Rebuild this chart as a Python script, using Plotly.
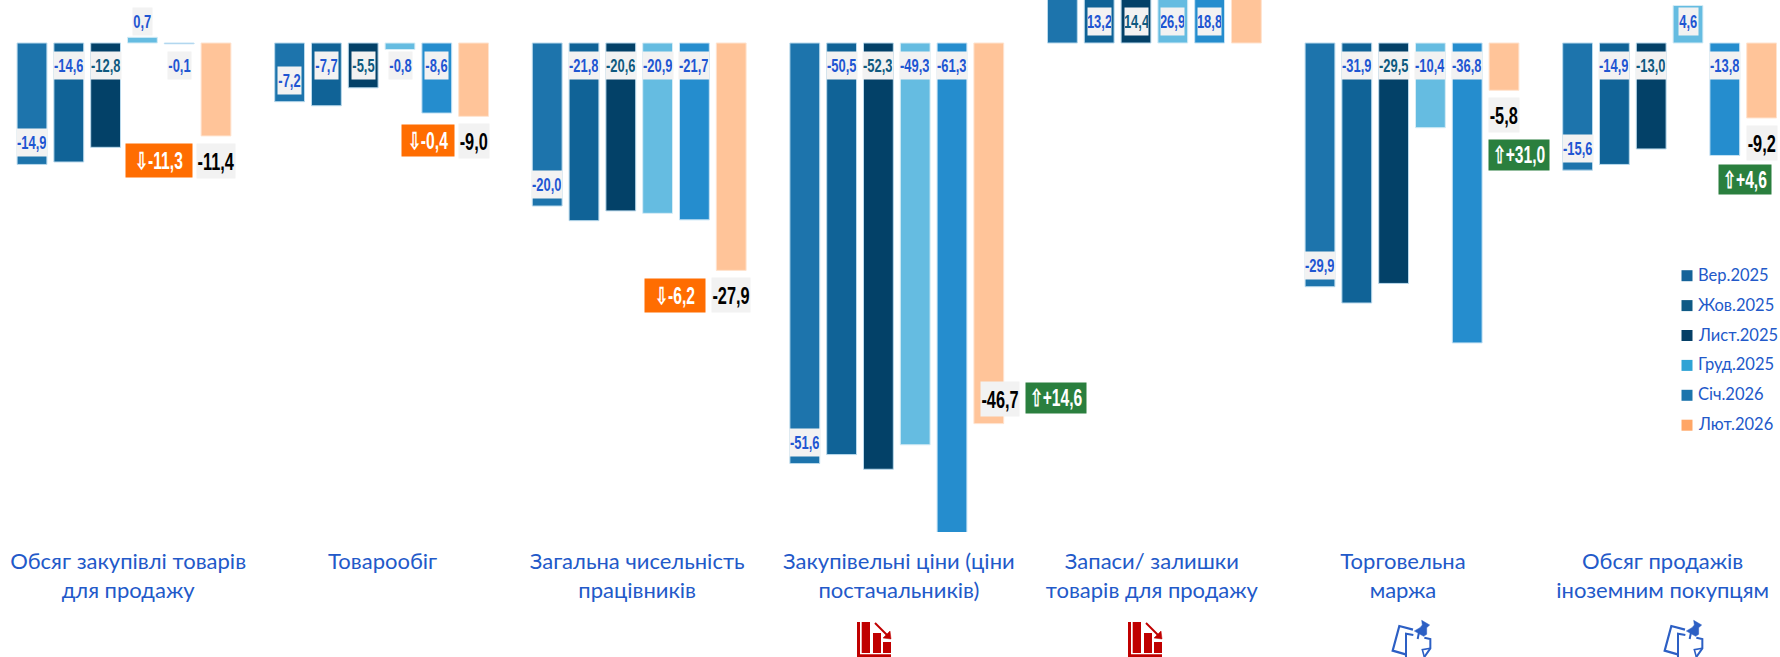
import plotly.graph_objects as go

W, H = 1780, 657

categories = [
    "Обсяг закупівлі товарів<br>для продажу",
    "Товарообіг",
    "Загальна чисельність<br>працівників",
    "Закупівельні ціни (ціни<br>постачальників)",
    "Запаси/ залишки<br>товарів для продажу",
    "Торговельна<br>маржа",
    "Обсяг продажів<br>іноземним покупцям",
]
months = ["Вер.2025", "Жов.2025", "Лист.2025", "Груд.2025", "Січ.2026", "Лют.2026"]

sep_2025 = [-14.9, -7.2, -20.0, -51.6, 14.0, -29.9, -15.6]
oct_2025 = [-14.6, -7.7, -21.8, -50.5, 13.2, -31.9, -14.9]
nov_2025 = [-12.8, -5.5, -20.6, -52.3, 14.4, -29.5, -13.0]
dec_2025 = [0.7, -0.8, -20.9, -49.3, 26.9, -10.4, 4.6]
jan_2026 = [-0.1, -8.6, -21.7, -61.3, 18.8, -36.8, -13.8]
feb_2026 = [-11.4, -9.0, -27.9, -46.7, 17.0, -5.8, -9.2]
series = [sep_2025, oct_2025, nov_2025, dec_2025, jan_2026, feb_2026]

# change badges: category index, text, is-up
changes = [
    (0, "⇩-11,3", False),
    (1, "⇩-0,4", False),
    (2, "⇩-6,2", False),
    (3, "⇧+14,6", True),
    (5, "⇧+31,0", True),
    (6, "⇧+4,6", True),
]

# ---- styles / layout ----
bar_colors = ["#1D74AC", "#106397", "#034168", "#65BCE1", "#258DCE", "#FFC499"]
bar_edges = ["#B9D9EC", "#B9D9EC", "#B9D9EC", "#D5ECF6", "#C5E2F4", "#FFE3CF"]
legend_colors = ["#156399", "#0F5A85", "#053F66", "#2FA3D5", "#1C74AC", "#FFA666"]
label_colors = ["#1F56D2", "#1F56D2", "#0F5A7F", "#1F56D2", "#1F56D2", "#000000"]
TEXT_BLUE = "#2259C9"
BOLD = "Liberation Sans, sans-serif"
SANS = "Lato, Noto Sans, sans-serif"

Y0, PX_PER_UNIT, AXIS_BOTTOM = 43, 8.15, 532
STEP = 36.8
CAT0, CAT_STEP = 124.0, 257.6
tick_nudge = [0.016, 0.004, -0.008, 0.008, -0.01, -0.035, -0.027]


def fmt(v):
    return f"{v:.1f}".replace(".", ",")


def box_width(text, big):
    n = len(text)
    return ({3: 18.5, 4: 23, 5: 29.5} if not big else {4: 29.5, 5: 38})[n]


fig = go.Figure()
for name, vals, col, edge in zip(months, series, bar_colors, bar_edges):
    fig.add_trace(go.Bar(
        name=name, x=list(range(len(categories))), y=vals, marker_color=col,
        marker_line_color=edge, marker_line_width=1, showlegend=False,
        hoverinfo="x+y+name",
    ))

annotations = []
for s, vals in enumerate(series):
    off = (s - 2.5) * STEP
    for c, v in enumerate(vals):
        if c == 4 and s in (0, 5):
            continue  # labels of these two bars lie outside the picture
        big = s == 5
        if big:
            xs, ys, anchor = off, -25, v
            if c == 3:
                xs, ys = off + 11, 25
            size, h = 24, 34
        elif s == 0 and v < 0:
            xs, ys, anchor = off, 21.5, v
            size, h = 18, 27
        else:
            xs, ys, anchor = off, (21.5 if v > 0 else -22), 0
            size, h = 18, 27
        text = fmt(v)
        annotations.append(dict(
            x=c, y=anchor, xref="x", yref="y", text=text, showarrow=False,
            xshift=xs, yshift=ys, width=box_width(text, big), height=h,
            bgcolor="#F2F2F2", borderpad=0,
            font=dict(family=BOLD, size=size, color=label_colors[s], weight="bold"),
        ))

badge_pos = {0: (35, -117, 66, 33), 1: (46.4, -97.5, 52, 31), 2: (35.8, -252, 60, 33),
             3: (159, -355, 60, 30), 5: (107.4, -111.7, 60, 30), 6: (75.8, -136.5, 52, 29)}
for c, text, up in changes:
    xs, ys, w, h = badge_pos[c]
    annotations.append(dict(
        x=c, y=0, xref="x", yref="y", text=text, showarrow=False, xshift=xs, yshift=ys,
        width=w, height=h, bgcolor="#2A7F3E" if up else "#FF6D01", borderpad=0,
        font=dict(family=BOLD, size=23, color="#FFFFFF", weight="bold"),
    ))

shapes = []


def px(x):
    return x / W


def py(y):
    return 1 - y / H


# custom legend (swatch right next to the text)
for i, (name, col) in enumerate(zip(months, legend_colors)):
    yc = 275.7 + i * 29.9
    shapes.append(dict(type="rect", xref="paper", yref="paper", x0=px(1681.5), x1=px(1692.5),
                       y0=py(yc + 5.5), y1=py(yc - 5.5), fillcolor=col, line_width=0))
    annotations.append(dict(
        x=px(1697), y=py(yc - 1), xref="paper", yref="paper", xanchor="left", yanchor="middle",
        text=name, showarrow=False, borderpad=0,
        font=dict(family=SANS, size=16.5, color=TEXT_BLUE),
    ))


def poly(points, close=True):
    d = "M" + " L".join(f"{px(x):.5f},{py(y):.5f}" for x, y in points)
    return d + (" Z" if close else "")


def chart_icon(dx):
    red = "#C00000"
    for x0, x1, y0, y1 in [(7, 10, 7, 42), (7, 41, 39.3, 42), (11.7, 20, 7, 38),
                           (23, 31, 18, 38), (33, 41, 27, 38)]:
        shapes.append(dict(type="rect", xref="paper", yref="paper", x0=px(850 + dx + x0 - 0),
                           x1=px(850 + dx + x1), y0=py(615 + y1), y1=py(615 + y0),
                           fillcolor=red, line_width=0))
    shapes.append(dict(type="path", xref="paper", yref="paper",
                       path=poly([(875 + dx, 623), (889 + dx, 637)], False),
                       line=dict(color=red, width=2)))
    shapes.append(dict(type="path", xref="paper", yref="paper",
                       path=poly([(891 + dx, 639), (890 + dx, 631), (883 + dx, 638)]),
                       fillcolor=red, line=dict(color=red, width=0.5)))


def note_icon(dx):
    blue = "#2C5FC4"
    ox, oy = 1385 + dx, 615
    pts = lambda L: [(ox + a / 3, oy + b / 3) for a, b in L]
    shapes.append(dict(type="path", xref="paper", yref="paper",
                       path=poly(pts([(84, 44), (43, 33), (23, 107), (62, 118)]), False),
                       line=dict(color=blue, width=2.2)))
    shapes.append(dict(type="path", xref="paper", yref="paper",
                       path=poly(pts([(85, 60), (63, 56), (63, 126)]), False),
                       line=dict(color=blue, width=2)))
    shapes.append(dict(type="path", xref="paper", yref="paper",
                       path=poly(pts([(118, 68), (136, 72), (136, 100), (118, 126)]), False),
                       line=dict(color=blue, width=2)))
    shapes.append(dict(type="path", xref="paper", yref="paper",
                       path=poly(pts([(136, 100), (112, 104), (118, 126)]), False),
                       line=dict(color=blue, width=1.6)))
    shapes.append(dict(type="path", xref="paper", yref="paper",
                       path=poly(pts([(110, 16), (134, 30), (125, 38), (125, 58), (116, 64), (88, 48),
                                      (105, 38), (112, 30)])),
                       fillcolor=blue, line=dict(color=blue, width=0.5)))
    shapes.append(dict(type="path", xref="paper", yref="paper",
                       path=poly(pts([(102, 52), (98, 72)]), False),
                       line=dict(color=blue, width=2)))


chart_icon(0)
chart_icon(271)
note_icon(0)
note_icon(272)

fig.update_layout(
    width=W, height=H, margin=dict(l=0, r=0, t=0, b=0),
    paper_bgcolor="#FFFFFF", plot_bgcolor="#FFFFFF",
    barmode="group", bargap=1 / 7, bargroupgap=0.19,
    showlegend=False, annotations=annotations, shapes=shapes,
    xaxis=dict(
        range=[-CAT0 / CAT_STEP, (W - CAT0) / CAT_STEP],
        tickmode="array",
        tickvals=[i + d for i, d in enumerate(tick_nudge)], ticktext=categories,
        tickangle=0, showgrid=False, zeroline=False, showline=False, ticks="",
        ticklabelstandoff=14,
        tickfont=dict(family=SANS, size=22, color=TEXT_BLUE),
    ),
    yaxis=dict(
        domain=[(H - AXIS_BOTTOM) / H, 1],
        range=[-60, Y0 / PX_PER_UNIT], showgrid=False, zeroline=False,
        showticklabels=False, ticks="", showline=False,
    ),
)

# The page margin is removed, and the bold value labels are squeezed to a condensed width.
post = """
document.body.style.margin = '0';
document.documentElement.style.overflow = 'hidden';
document.querySelectorAll('.annotation-text').forEach(function (t) {
  if (String(t.style.fontWeight) === '700' || t.style.fontWeight === 'bold') {
    var len = t.getComputedTextLength();
    var ratio = parseFloat(t.style.fontSize) >= 22 ? 0.68 : 0.72;
    t.setAttribute('textLength', (len * ratio).toFixed(1));
    t.setAttribute('lengthAdjust', 'spacingAndGlyphs');
  }
});
"""
fig.write_html("out.html", config=dict(displayModeBar=False), post_script=post)
